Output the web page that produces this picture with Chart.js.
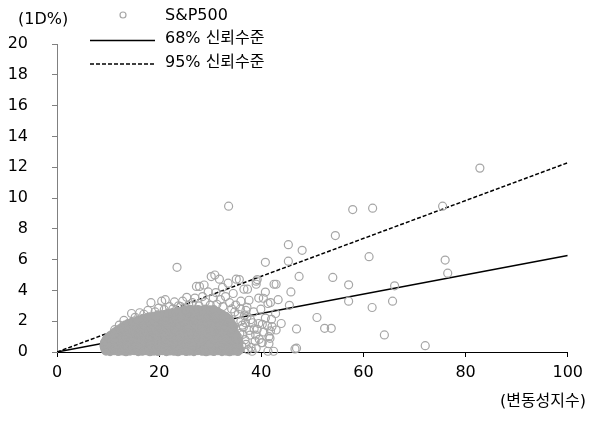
<!DOCTYPE html>
<html>
<head>
<meta charset="utf-8">
<script src="https://cdn.jsdelivr.net/npm/chart.js@4/dist/chart.umd.min.js"></script>
<style>
html,body{margin:0;padding:0;background:#fff;}
#wrap{position:relative;width:589px;height:425px;}
canvas{display:block;}
</style>
</head>
<body>
<div id="wrap"><canvas id="c" width="589" height="425"></canvas></div>
<script>
// ---- data ----
const seriesNames = ['S&P500', '68% 신뢰수준', '95% 신뢰수준'];
const yUnitLabel = '(1D%)';
const xUnitLabel = '(변동성지수)';
const xTicks = [0, 20, 40, 60, 80, 100];
const yTicks = [0, 2, 4, 6, 8, 10, 12, 14, 16, 18, 20];

// confidence band lines: [VIX, 1-day move %]
const band68 = [[0, 0], [100, 6.27]];
const band95 = [[0, 0], [100, 12.29]];

// dense body of daily observations [VIX, |1D move| %]
const sp500Core = [
 [9.6,0.06],[10.4,0.03],[11.2,0.08],[12.0,0.04],[12.8,0.07],[13.5,0.02],[14.3,0.06],[15.1,0.09],[15.9,0.03],[16.7,0.05],[17.5,0.08],[18.2,0.02],[19.0,0.06],[19.8,0.04],[20.6,0.09],[21.4,0.03],[22.1,0.07],[22.9,0.05],[23.7,0.02],[24.5,0.08],[25.3,0.04],[26.0,0.06],[26.8,0.03],[27.6,0.09],[28.4,0.05],[29.2,0.02],[29.9,0.07],[30.7,0.04],[31.5,0.08],[32.3,0.03],[33.1,0.06],[33.8,0.02],[34.6,0.07],[35.4,0.04],
 [9.4,0.16],[10.2,0.14],[11.0,0.18],[11.7,0.15],[12.5,0.17],[13.3,0.14],[14.1,0.19],[14.9,0.16],[15.6,0.15],[16.4,0.18],[17.2,0.14],[18.0,0.17],[18.8,0.16],[19.5,0.19],[20.3,0.15],[21.1,0.17],[21.9,0.14],[22.7,0.18],[23.4,0.16],[24.2,0.15],[25.0,0.19],[25.8,0.14],[26.6,0.17],[27.3,0.16],[28.1,0.18],[28.9,0.15],[29.7,0.17],[30.5,0.14],[31.2,0.19],[32.0,0.16],[32.8,0.15],[33.6,0.18],[34.4,0.14],[35.1,0.17],[35.8,0.15],
 [9.3,0.29],[10.0,0.26],[10.8,0.31],[11.6,0.27],[12.4,0.30],[13.2,0.25],[13.9,0.29],[14.7,0.32],[15.5,0.26],[16.3,0.28],[17.1,0.31],[17.8,0.25],[18.6,0.29],[19.4,0.27],[20.2,0.32],[21.0,0.26],[21.7,0.30],[22.5,0.28],[23.3,0.25],[24.1,0.31],[24.9,0.27],[25.6,0.29],[26.4,0.26],[27.2,0.32],[28.0,0.28],[28.8,0.25],[29.5,0.30],[30.3,0.27],[31.1,0.31],[31.9,0.26],[32.7,0.29],[33.4,0.25],[34.2,0.30],[35.0,0.27],
 [9.2,0.40],[9.7,0.38],[10.5,0.41],[11.3,0.37],[12.1,0.40],[12.9,0.42],[13.7,0.38],[14.5,0.39],[15.3,0.41],[16.0,0.37],[16.8,0.40],[17.6,0.42],[18.4,0.38],[19.2,0.39],[19.9,0.41],[20.7,0.37],[21.5,0.40],[22.3,0.42],[23.1,0.38],[23.8,0.39],[24.6,0.41],[25.4,0.37],[26.2,0.40],[27.0,0.42],[27.7,0.38],[28.5,0.39],[29.3,0.41],[30.1,0.37],[30.9,0.40],[31.6,0.42],[32.4,0.38],[33.2,0.39],[34.0,0.41],[34.8,0.37],[35.6,0.40],
 [9.4,0.51],[10.3,0.48],[11.1,0.53],[11.9,0.49],[12.7,0.52],[13.6,0.47],[14.4,0.51],[15.2,0.54],[16.0,0.48],[16.8,0.50],[17.6,0.53],[18.3,0.47],[19.1,0.51],[19.9,0.49],[20.7,0.54],[21.5,0.48],[22.2,0.52],[23.0,0.50],[23.8,0.47],[24.6,0.53],[25.4,0.49],[26.1,0.51],[26.9,0.48],[27.7,0.54],[28.5,0.50],[29.3,0.47],[30.0,0.52],[30.8,0.49],[31.6,0.53],[32.4,0.48],[33.2,0.51],[33.9,0.47],[34.7,0.52],[35.5,0.49],
 [9.3,0.62],[9.9,0.60],[10.7,0.63],[11.5,0.59],[12.3,0.62],[13.0,0.64],[13.8,0.60],[14.6,0.61],[15.4,0.63],[16.2,0.59],[16.9,0.62],[17.7,0.64],[18.5,0.60],[19.3,0.61],[20.1,0.63],[20.8,0.59],[21.6,0.62],[22.4,0.64],[23.2,0.60],[24.0,0.61],[24.7,0.63],[25.5,0.59],[26.3,0.62],[27.1,0.64],[27.9,0.60],[28.6,0.61],[29.4,0.63],[30.2,0.59],[31.0,0.62],[31.8,0.64],[32.5,0.60],[33.3,0.61],[34.1,0.63],[34.9,0.59],[35.6,0.62],
 [9.5,0.72],[10.1,0.75],[10.9,0.71],[11.7,0.74],[12.5,0.70],[13.3,0.76],[14.0,0.72],[14.8,0.74],[15.6,0.71],[16.4,0.75],[17.2,0.70],[17.9,0.73],[18.7,0.76],[19.5,0.71],[20.3,0.74],[21.1,0.72],[21.8,0.76],[22.6,0.70],[23.4,0.73],[24.2,0.75],[25.0,0.71],[25.7,0.74],[26.5,0.72],[27.3,0.76],[28.1,0.70],[28.9,0.73],[29.6,0.75],[30.4,0.71],[31.2,0.74],[32.0,0.72],[32.8,0.76],[33.5,0.70],[34.3,0.73],[35.1,0.75],
 [9.7,0.84],[10.4,0.86],[11.2,0.83],[12.0,0.85],[12.8,0.82],[13.6,0.87],[14.3,0.84],[15.1,0.86],[15.9,0.83],[16.7,0.85],[17.5,0.82],[18.2,0.87],[19.0,0.84],[19.8,0.86],[20.6,0.83],[21.4,0.85],[22.1,0.82],[22.9,0.87],[23.7,0.84],[24.5,0.86],[25.3,0.83],[26.0,0.85],[26.8,0.82],[27.6,0.87],[28.4,0.84],[29.2,0.86],[29.9,0.83],[30.7,0.85],[31.5,0.82],[32.3,0.87],[33.1,0.84],[33.8,0.86],[34.6,0.83],[35.3,0.85],
 [10.0,0.94],[10.7,0.97],[11.5,0.93],[12.3,0.96],[13.1,0.92],[13.9,0.98],[14.6,0.94],[15.4,0.96],[16.2,0.93],[17.0,0.97],[17.8,0.92],[18.5,0.95],[19.3,0.98],[20.1,0.93],[20.9,0.96],[21.7,0.94],[22.4,0.98],[23.2,0.92],[24.0,0.95],[24.8,0.97],[25.6,0.93],[26.3,0.96],[27.1,0.94],[27.9,0.98],[28.7,0.92],[29.5,0.95],[30.2,0.97],[31.0,0.93],[31.8,0.96],[32.6,0.94],[33.4,0.98],[34.1,0.92],[34.9,0.95],
 [10.4,1.06],[11.1,1.08],[11.9,1.05],[12.7,1.07],[13.5,1.04],[14.3,1.09],[15.0,1.06],[15.8,1.08],[16.6,1.05],[17.4,1.07],[18.2,1.04],[18.9,1.09],[19.7,1.06],[20.5,1.08],[21.3,1.05],[22.1,1.07],[22.8,1.04],[23.6,1.09],[24.4,1.06],[25.2,1.08],[26.0,1.05],[26.7,1.07],[27.5,1.04],[28.3,1.09],[29.1,1.06],[29.9,1.08],[30.6,1.05],[31.4,1.07],[32.2,1.04],[33.0,1.09],[33.8,1.06],[34.5,1.08],[35.2,1.05],
 [10.9,1.17],[11.6,1.20],[12.4,1.16],[13.2,1.19],[14.0,1.15],[14.8,1.21],[15.5,1.17],[16.3,1.19],[17.1,1.16],[17.9,1.20],[18.7,1.15],[19.4,1.18],[20.2,1.21],[21.0,1.16],[21.8,1.19],[22.6,1.17],[23.3,1.21],[24.1,1.15],[24.9,1.18],[25.7,1.20],[26.5,1.16],[27.2,1.19],[28.0,1.17],[28.8,1.21],[29.6,1.15],[30.4,1.18],[31.1,1.20],[31.9,1.16],[32.7,1.19],[33.5,1.17],[34.3,1.21],[35.0,1.15],
 [11.3,1.29],[12.0,1.31],[12.8,1.28],[13.6,1.30],[14.4,1.27],[15.2,1.32],[15.9,1.29],[16.7,1.31],[17.5,1.28],[18.3,1.30],[19.1,1.27],[19.8,1.32],[20.6,1.29],[21.4,1.31],[22.2,1.28],[23.0,1.30],[23.7,1.27],[24.5,1.32],[25.3,1.29],[26.1,1.31],[26.9,1.28],[27.6,1.30],[28.4,1.27],[29.2,1.32],[30.0,1.29],[30.8,1.31],[31.5,1.28],[32.3,1.30],[33.1,1.27],[33.9,1.32],[34.7,1.29],
 [11.8,1.39],[12.6,1.42],[13.4,1.38],[14.2,1.41],[14.9,1.37],[15.7,1.43],[16.5,1.39],[17.3,1.41],[18.1,1.38],[18.8,1.42],[19.6,1.37],[20.4,1.40],[21.2,1.43],[22.0,1.38],[22.7,1.41],[23.5,1.39],[24.3,1.43],[25.1,1.37],[25.9,1.40],[26.6,1.42],[27.4,1.38],[28.2,1.41],[29.0,1.39],[29.8,1.43],[30.5,1.37],[31.3,1.40],[32.1,1.42],[32.9,1.38],[33.7,1.41],[34.4,1.39],
 [12.3,1.51],[13.0,1.53],[13.8,1.50],[14.6,1.52],[15.4,1.49],[16.1,1.54],[16.9,1.51],[17.7,1.53],[18.5,1.50],[19.2,1.52],[20.0,1.49],[20.8,1.54],[21.6,1.51],[22.4,1.53],[23.1,1.50],[23.9,1.52],[24.7,1.49],[25.5,1.54],[26.3,1.51],[27.0,1.53],[27.8,1.50],[28.6,1.52],[29.4,1.49],[30.2,1.54],[30.9,1.51],[31.7,1.53],[32.5,1.50],[33.3,1.52],[34.1,1.49],
 [12.8,1.62],[13.6,1.65],[14.4,1.61],[15.2,1.64],[16.0,1.60],[16.7,1.66],[17.5,1.62],[18.3,1.64],[19.1,1.61],[19.9,1.65],[20.6,1.60],[21.4,1.63],[22.2,1.66],[23.0,1.61],[23.8,1.64],[24.5,1.62],[25.3,1.66],[26.1,1.60],[26.9,1.63],[27.7,1.65],[28.4,1.61],[29.2,1.64],[30.0,1.62],[30.8,1.66],[31.6,1.60],[32.3,1.63],[33.1,1.65],[33.9,1.61],[34.6,1.64],
 [13.3,1.74],[14.0,1.76],[14.8,1.73],[15.6,1.75],[16.4,1.72],[17.1,1.77],[17.9,1.74],[18.7,1.76],[19.5,1.73],[20.3,1.75],[21.0,1.72],[21.8,1.77],[22.6,1.74],[23.4,1.76],[24.2,1.73],[24.9,1.75],[25.7,1.72],[26.5,1.77],[27.3,1.74],[28.1,1.76],[28.8,1.73],[29.6,1.75],[30.4,1.72],[31.2,1.77],[32.0,1.74],[32.7,1.76],[33.5,1.73],[34.3,1.75],
 [13.9,1.84],[14.6,1.87],[15.4,1.83],[16.2,1.86],[17.0,1.82],[17.8,1.88],[18.5,1.84],[19.3,1.86],[20.1,1.83],[20.9,1.87],[21.7,1.82],[22.4,1.85],[23.2,1.88],[24.0,1.83],[24.8,1.86],[25.6,1.84],[26.3,1.88],[27.1,1.82],[27.9,1.85],[28.7,1.87],[29.5,1.83],[30.2,1.86],[31.0,1.84],[31.8,1.88],[32.6,1.82],[33.4,1.85],[34.1,1.87],
 [14.8,1.96],[15.6,1.98],[16.6,1.95],[17.4,1.97],[18.1,1.94],[18.9,1.99],[19.7,1.96],[20.5,1.98],[21.3,1.95],[22.0,1.97],[22.8,1.94],[23.6,1.99],[24.4,1.96],[25.2,1.98],[25.9,1.95],[26.7,1.97],[27.5,1.94],[28.3,1.99],[29.1,1.96],[29.8,1.98],[30.6,1.95],[31.4,1.97],[32.2,1.94],[33.0,1.99],[33.7,1.96],
 [15.9,2.07],[16.7,2.10],[17.5,2.06],[18.3,2.09],[19.1,2.05],[19.8,2.11],[20.6,2.07],[21.4,2.09],[22.2,2.06],[23.0,2.10],[23.7,2.05],[24.5,2.08],[25.3,2.11],[26.1,2.06],[26.9,2.09],[27.6,2.07],[28.4,2.11],[29.2,2.05],[30.0,2.08],[30.8,2.10],[31.5,2.06],[32.3,2.09],[33.1,2.07],[33.8,2.11],
 [16.9,2.19],[17.7,2.21],[18.7,2.18],[19.4,2.20],[20.2,2.17],[21.0,2.22],[21.8,2.19],[22.6,2.21],[23.3,2.18],[24.1,2.20],[24.9,2.17],[25.7,2.22],[26.5,2.19],[27.2,2.21],[28.0,2.18],[28.8,2.20],[29.6,2.17],[30.4,2.22],[31.1,2.19],[31.9,2.21],[32.7,2.18],[33.4,2.20],
 [18.1,2.29],[18.9,2.32],[19.7,2.28],[20.5,2.31],[21.3,2.27],[22.0,2.33],[22.8,2.29],[23.6,2.31],[24.4,2.28],[25.2,2.32],[25.9,2.27],[26.7,2.30],[27.5,2.33],[28.3,2.28],[29.1,2.31],[29.8,2.29],[30.6,2.33],[31.4,2.27],[32.2,2.30],[33.0,2.32],
 [19.7,2.41],[20.9,2.43],[21.6,2.40],[22.4,2.42],[23.2,2.39],[24.0,2.44],[24.8,2.41],[25.5,2.43],[26.3,2.40],[27.1,2.42],[27.9,2.39],[28.7,2.44],[29.4,2.41],[30.2,2.43],[31.0,2.40],[31.8,2.42],[32.5,2.39],
 [21.7,2.52],[22.5,2.55],[23.3,2.51],[24.1,2.54],[24.8,2.50],[25.6,2.56],[26.4,2.52],[27.2,2.54],[28.0,2.51],[28.7,2.55],[29.5,2.50],[30.3,2.53],[31.1,2.56],[31.9,2.51],
 [23.6,2.64],[24.4,2.66],[25.2,2.63],[26.0,2.65],[26.8,2.62],[27.5,2.67],[28.3,2.64],[29.1,2.66],[29.9,2.63],[30.7,2.65],[31.4,2.62],
 [25.2,2.74],[26.0,2.77],[26.8,2.73],[27.6,2.76],[28.4,2.72],[29.1,2.78],[29.9,2.74],[30.7,2.76]
];

// looser fringe around the body
const sp500Fringe = [
 [11.3,1.45],[12.2,1.75],[13.1,2.05],[14.6,2.5],[15.3,2.25],[16.2,2.55],[17.0,2.45],[17.8,2.7],[18.4,3.2],[19.2,2.6],[19.9,2.85],[20.5,3.3],[21.2,3.4],[21.0,2.75],[22.0,2.95],[22.7,2.8],[23.0,3.25],[23.8,3.0],[24.2,2.95],[24.6,3.3],[25.4,3.55],[25.8,3.05],[26.5,3.2],[27.0,3.5],[27.3,4.26],[27.9,4.26],[28.8,4.35],[27.8,3.0],[28.5,3.6],[29.0,3.25],[29.6,3.9],[30.0,3.05],[30.2,4.9],[30.6,3.5],[30.9,5.0],[31.1,3.86],[31.3,3.1],[31.8,4.73],[32.0,3.4],[32.4,4.19],[32.5,2.95],[33.0,3.6],[33.5,4.47],[33.8,3.2],[34.2,2.8],[34.5,3.8],[35.0,3.05],[35.1,4.73],[35.5,2.45],[35.7,4.7],[36.0,3.3],[36.6,4.08],[37.0,2.7],[37.3,4.08],[37.2,2.9],
 [35.2,0.4],[35.8,1.2],[36.2,0.39],[36.0,2.0],[36.3,1.75],[36.5,1.6],[36.8,0.8],[37.2,2.3],[37.6,1.4],[37.6,3.36],[37.8,1.1],[38.0,0.3],[38.3,1.9],[38.5,2.6],[38.8,0.7],[38.9,1.1],[39.0,4.4],[39.0,4.6],[39.2,1.47],[39.5,1.85],[39.5,3.5],[39.6,0.82],[39.9,2.78],[40.0,0.6],[40.2,0.6],[40.4,3.49],[40.8,3.89],[40.8,2.2],[41.2,1.69],[41.3,0.05],[41.3,3.15],[41.5,1.0],[41.5,0.54],[41.7,0.89],[41.8,3.21],[41.8,1.37],[42.0,2.12],[42.1,1.65],[42.4,0.05],[42.8,2.5],[42.9,1.43],[43.3,3.4],[43.9,1.85],[45.5,3.03],[45.8,3.9],[46.6,0.2],[46.9,0.25],[46.9,1.5],
 [35.6,0.9],[36.4,1.15],[37.0,0.5],[37.4,0.15],[36.9,1.9],[38.2,0.05],[37.9,2.1],[38.6,1.5],[39.0,0.25],[40.5,1.3],[40.2,1.8],[34.8,2.6],[35.9,2.8],[36.7,2.35]
];

// isolated large moves
const sp500Outliers = [
 [23.5,5.5],[33.6,9.47],[39.2,4.7],[40.8,5.82],[42.5,4.4],[42.9,4.4],[45.3,6.97],[45.3,5.9],[47.4,4.91],[48.0,6.6],[50.9,2.24],[52.4,1.54],[53.7,1.54],[54.0,4.84],[54.5,7.56],[57.1,4.36],[57.1,3.30],[57.9,9.25],[61.1,6.19],[61.7,2.89],[61.8,9.34],[64.1,1.11],[65.7,3.30],[66.1,4.30],[72.1,0.41],[75.5,9.47],[76.0,5.97],[76.5,5.12],[82.8,11.94]
];

// ---- drawing ----
const FONT_FAMILY = '"DejaVu Sans", "Noto Sans CJK KR", sans-serif';
const TEXT_COLOR = '#000000';
const MARKER_COLOR = '#a6a6a6';
Chart.defaults.font.family = FONT_FAMILY;
Chart.defaults.font.size = 16;
Chart.defaults.color = TEXT_COLOR;

const toXY = arr => arr.map(p => ({ x: p[0], y: p[1] }));

const overlayPlugin = {
  id: 'overlayText',
  afterDraw(chart) {
    const ctx = chart.ctx;
    ctx.save();
    ctx.font = '16px ' + FONT_FAMILY;
    ctx.fillStyle = TEXT_COLOR;
    ctx.textBaseline = 'middle';
    ctx.textAlign = 'left';
    ctx.fillText(yUnitLabel, 18, 20);
    ctx.textAlign = 'right';
    ctx.fillText(xUnitLabel, 586, 402);
    // legend
    ctx.textAlign = 'left';
    ctx.beginPath();
    ctx.arc(123, 15, 3, 0, Math.PI * 2);
    ctx.strokeStyle = MARKER_COLOR;
    ctx.lineWidth = 1.2;
    ctx.stroke();
    ctx.fillText(seriesNames[0], 165, 16);
    ctx.strokeStyle = '#000';
    ctx.lineWidth = 1.5;
    ctx.beginPath();
    ctx.moveTo(90, 40.5); ctx.lineTo(155, 40.5);
    ctx.stroke();
    ctx.fillText(seriesNames[1], 165, 39);
    ctx.setLineDash([4, 2]);
    ctx.beginPath();
    ctx.moveTo(90, 64); ctx.lineTo(155, 64);
    ctx.stroke();
    ctx.setLineDash([]);
    ctx.fillText(seriesNames[2], 165, 63);
    ctx.restore();
  }
};

const markerStyle = {
  pointRadius: 4,
  pointHoverRadius: 4,
  pointBorderColor: MARKER_COLOR,
  pointBorderWidth: 1.2,
  showLine: false,
  clip: false,
  order: 0
};

new Chart(document.getElementById('c'), {
  type: 'scatter',
  data: {
    datasets: [
      Object.assign({
        label: seriesNames[0],
        data: toXY(sp500Core),
        pointBackgroundColor: MARKER_COLOR
      }, markerStyle),
      Object.assign({
        label: seriesNames[0],
        data: toXY([...sp500Fringe, ...sp500Outliers]),
        pointBackgroundColor: 'rgba(0,0,0,0)'
      }, markerStyle),
      {
        label: seriesNames[1],
        data: toXY(band68),
        showLine: true,
        borderColor: '#000',
        borderWidth: 1.5,
        pointRadius: 0,
        order: 1
      },
      {
        label: seriesNames[2],
        data: toXY(band95),
        showLine: true,
        borderColor: '#000',
        borderWidth: 1.5,
        borderDash: [4, 2],
        pointRadius: 0,
        order: 2
      }
    ]
  },
  options: {
    responsive: false,
    devicePixelRatio: 1,
    animation: false,
    layout: { padding: { top: 44, right: 18, left: 0, bottom: 0 } },
    plugins: { legend: { display: false }, tooltip: { enabled: false } },
    scales: {
      x: {
        type: 'linear',
        min: xTicks[0], max: xTicks[xTicks.length - 1],
        afterBuildTicks: s => { s.ticks = xTicks.map(v => ({ value: v })); },
        afterFit: s => { s.height = 73; },
        ticks: { padding: 6, color: TEXT_COLOR, font: { size: 16 } },
        grid: { drawOnChartArea: false, drawTicks: true, tickLength: 5, color: '#000' },
        border: { color: '#000', width: 1 }
      },
      y: {
        type: 'linear',
        min: yTicks[0], max: yTicks[yTicks.length - 1],
        afterBuildTicks: s => { s.ticks = yTicks.map(v => ({ value: v })); },
        afterFit: s => { s.width = 57; },
        ticks: { padding: 24, color: TEXT_COLOR, font: { size: 16 } },
        grid: { drawOnChartArea: false, drawTicks: true, tickLength: 5, color: '#808080' },
        border: { color: '#808080', width: 1 }
      }
    }
  },
  plugins: [overlayPlugin]
});
</script>
</body>
</html>
